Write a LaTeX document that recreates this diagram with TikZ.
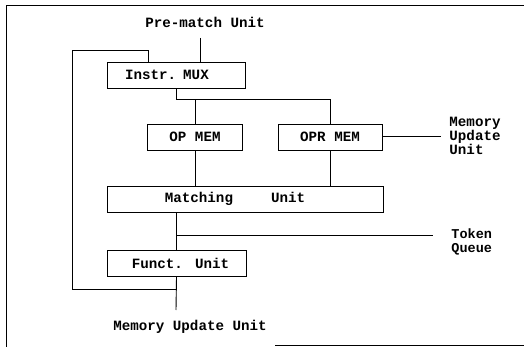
\documentclass[tikz,border=0pt]{standalone}
\usepackage{fontspec}
\usepackage{tikz}
\usetikzlibrary{positioning,calc}
\newfontfamily\dotfont{Liberation Mono}[BoldFont=* Bold]

\begin{document}
\begin{tikzpicture}[
x=1pt, y=-1pt,
line width=0.9pt,
font=\dotfont\bfseries\fontsize{14.2}{11}\selectfont,
unit/.style={draw, minimum height=26pt, inner sep=0pt, align=center},
lbl/.style={inner sep=0pt, align=left},
wire/.style={line width=0.9pt}
]
\useasboundingbox (0,0) rectangle (524,347);
% frame of the scan
\draw (524,5) -- (6,5) -- (6,347);
\draw (275,345) -- (524,345);

\node[unit, minimum width=138pt, text width=102pt, inner xsep=18pt, align=left] (mux) at (176,75) {Instr. MUX};
\node[unit, minimum width=95pt] (opmem) at (195,137) {OP MEM};
\node[unit, minimum width=104pt] (oprmem) at (330,137) {OPR MEM};
\node[unit, minimum width=276pt] (match) at (245,199) {Matching\hspace{38pt}Unit\hspace{20pt}};
\node[unit, minimum width=139pt] (funct) at (176.5,263.5) {\hspace{8pt}Funct.\hspace{12pt}Unit};

\node[lbl] (prematch) at (205,22) {Pre-match Unit};
\node[lbl, anchor=west] (memupd) at (449,136) {Memory\\Update\\Unit};
\node[lbl, anchor=west, font=\dotfont\bfseries\fontsize{13.5}{14}\selectfont] (tokq) at (451,242) {Token\\Queue};
\node[lbl] (memout) at (190,327) {Memory Update Unit};

\coordinate (pmin) at (200,38);
\coordinate (split) at (176,99);
\coordinate (loopl) at (72,50);
\coordinate (fbk) at (176,289);
\coordinate (tqend) at (433,235);
\coordinate (mout) at (176,310);
\coordinate (muend) at (441,136);

\draw[wire] (pmin) -- (pmin |- mux.north);
\draw[wire] ([xshift=42pt]mux.north west) |- (loopl) |- (fbk);
\draw[wire] (mux.south) -- (split) -| (oprmem.north);
\draw[wire] (opmem.north) -- (opmem.north |- split);
\draw[wire] (opmem.south) -- (opmem.south |- match.north);
\draw[wire] (oprmem.south) -- (oprmem.south |- match.north);
\draw[wire] (oprmem.east |- muend) -- (muend);
\draw[wire] (match.south -| funct.north) -- (funct.north);
\draw[wire] (funct.north |- tqend) -- (tqend);
\draw[wire] (funct.south) -- (mout);
\end{tikzpicture}
\end{document}
